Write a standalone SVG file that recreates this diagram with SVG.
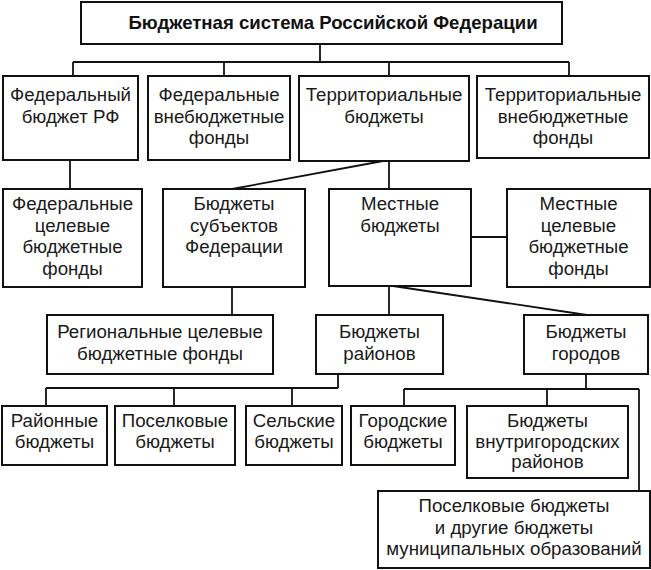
<svg xmlns="http://www.w3.org/2000/svg" width="651" height="570" viewBox="0 0 651 570">
<style>
  .box { fill: #fff; stroke: #111; stroke-width: 2; }
  .lbl { font-family: "Liberation Sans", Arial, sans-serif; font-size: 18.7px; fill: #1a1a1a; text-anchor: middle; }
  .title { font-family: "Liberation Sans", Arial, sans-serif; font-size: 18.6px; font-weight: bold; fill: #111; text-anchor: middle; }
  .conn line { stroke: #111; stroke-width: 1.8; fill: none; }
</style>
<rect width="651" height="570" fill="#fff"/>
<g class="conn" id="connectors">
  <line x1="320" y1="44" x2="320" y2="62"/>
  <line x1="73" y1="62" x2="569" y2="62"/>
  <line x1="73" y1="62" x2="73" y2="76"/>
  <line x1="224" y1="62" x2="224" y2="76"/>
  <line x1="389" y1="62" x2="389" y2="76"/>
  <line x1="569" y1="62" x2="569" y2="76"/>
  <line x1="70" y1="160" x2="70" y2="189"/>
  <line x1="389" y1="161" x2="389" y2="189"/>
  <line x1="383" y1="161" x2="232" y2="189"/>
  <line x1="471" y1="237" x2="507" y2="237"/>
  <line x1="232" y1="287" x2="232" y2="315"/>
  <line x1="389" y1="286" x2="389" y2="315"/>
  <line x1="393" y1="286" x2="587" y2="315"/>
  <line x1="338" y1="374" x2="338" y2="388"/>
  <line x1="46" y1="388" x2="338" y2="388"/>
  <line x1="46" y1="388" x2="46" y2="406"/>
  <line x1="174" y1="388" x2="174" y2="406"/>
  <line x1="292" y1="388" x2="292" y2="406"/>
  <line x1="586" y1="374" x2="586" y2="389"/>
  <line x1="404" y1="389" x2="639" y2="389"/>
  <line x1="404" y1="389" x2="404" y2="406"/>
  <line x1="547" y1="389" x2="547" y2="406"/>
  <line x1="639" y1="389" x2="639" y2="491"/>
</g>
<g id="n-title">
  <rect class="box" x="81" y="2" width="481" height="42"/>
  <text class="title" x="333" y="29">Бюджетная система Российской Федерации</text>
</g>
<g id="n-fed-budget">
  <rect class="box" x="3" y="76" width="135" height="84"/>
  <text class="lbl" x="70.5" y="101">Федеральный<tspan x="70.5" dy="21.5">бюджет РФ</tspan></text>
</g>
<g id="n-fed-extra">
  <rect class="box" x="148" y="76" width="142" height="84"/>
  <text class="lbl" x="219" y="101">Федеральные<tspan x="219" dy="21.5">внебюджетные</tspan><tspan x="219" dy="21.5">фонды</tspan></text>
</g>
<g id="n-terr">
  <rect class="box" x="299" y="76" width="170" height="85"/>
  <text class="lbl" x="384" y="101">Территориальные<tspan x="384" dy="21.5">бюджеты</tspan></text>
</g>
<g id="n-terr-extra">
  <rect class="box" x="477" y="76" width="172" height="82"/>
  <text class="lbl" x="563" y="101">Территориальные<tspan x="563" dy="21.5">внебюджетные</tspan><tspan x="563" dy="21.5">фонды</tspan></text>
</g>
<g id="n-fed-target">
  <rect class="box" x="3" y="189" width="139" height="98"/>
  <text class="lbl" x="72.5" y="210">Федеральные<tspan x="72.5" dy="21.5">целевые</tspan><tspan x="72.5" dy="21.5">бюджетные</tspan><tspan x="72.5" dy="21.5">фонды</tspan></text>
</g>
<g id="n-subjects">
  <rect class="box" x="163" y="189" width="142" height="98"/>
  <text class="lbl" x="234" y="210">Бюджеты<tspan x="234" dy="21.5">субъектов</tspan><tspan x="234" dy="21.5">Федерации</tspan></text>
</g>
<g id="n-local">
  <rect class="box" x="329" y="189" width="142" height="97"/>
  <text class="lbl" x="400" y="210">Местные<tspan x="400" dy="21.5">бюджеты</tspan></text>
</g>
<g id="n-local-target">
  <rect class="box" x="507" y="189" width="143" height="98"/>
  <text class="lbl" x="578.5" y="210">Местные<tspan x="578.5" dy="21.5">целевые</tspan><tspan x="578.5" dy="21.5">бюджетные</tspan><tspan x="578.5" dy="21.5">фонды</tspan></text>
</g>
<g id="n-regional-target">
  <rect class="box" x="47" y="315" width="226" height="59"/>
  <text class="lbl" x="160" y="338">Региональные целевые<tspan x="160" dy="22">бюджетные фонды</tspan></text>
</g>
<g id="n-districts">
  <rect class="box" x="316" y="315" width="127" height="59"/>
  <text class="lbl" x="379.5" y="338">Бюджеты<tspan x="379.5" dy="22">районов</tspan></text>
</g>
<g id="n-cities">
  <rect class="box" x="524" y="315" width="124" height="59"/>
  <text class="lbl" x="586" y="338">Бюджеты<tspan x="586" dy="22">городов</tspan></text>
</g>
<g id="n-district-b">
  <rect class="box" x="2" y="406" width="105" height="59"/>
  <text class="lbl" x="54.5" y="427">Районные<tspan x="54.5" dy="21">бюджеты</tspan></text>
</g>
<g id="n-settlement-b">
  <rect class="box" x="115" y="406" width="120" height="59"/>
  <text class="lbl" x="175" y="427">Поселковые<tspan x="175" dy="21">бюджеты</tspan></text>
</g>
<g id="n-rural-b">
  <rect class="box" x="246" y="406" width="96" height="59"/>
  <text class="lbl" x="294" y="427">Сельские<tspan x="294" dy="21">бюджеты</tspan></text>
</g>
<g id="n-city-b">
  <rect class="box" x="351" y="406" width="104" height="59"/>
  <text class="lbl" x="403" y="427">Городские<tspan x="403" dy="21">бюджеты</tspan></text>
</g>
<g id="n-intracity">
  <rect class="box" x="467" y="406" width="161" height="72"/>
  <text class="lbl" x="547.5" y="427">Бюджеты<tspan x="547.5" dy="20.5">внутригородских</tspan><tspan x="547.5" dy="20.5">районов</tspan></text>
</g>
<g id="n-other">
  <rect class="box" x="378" y="491" width="272" height="77"/>
  <text class="lbl" x="514" y="512">Поселковые бюджеты<tspan x="514" dy="21.5">и другие бюджеты</tspan><tspan x="514" dy="21.5">муниципальных образований</tspan></text>
</g>
</svg>
